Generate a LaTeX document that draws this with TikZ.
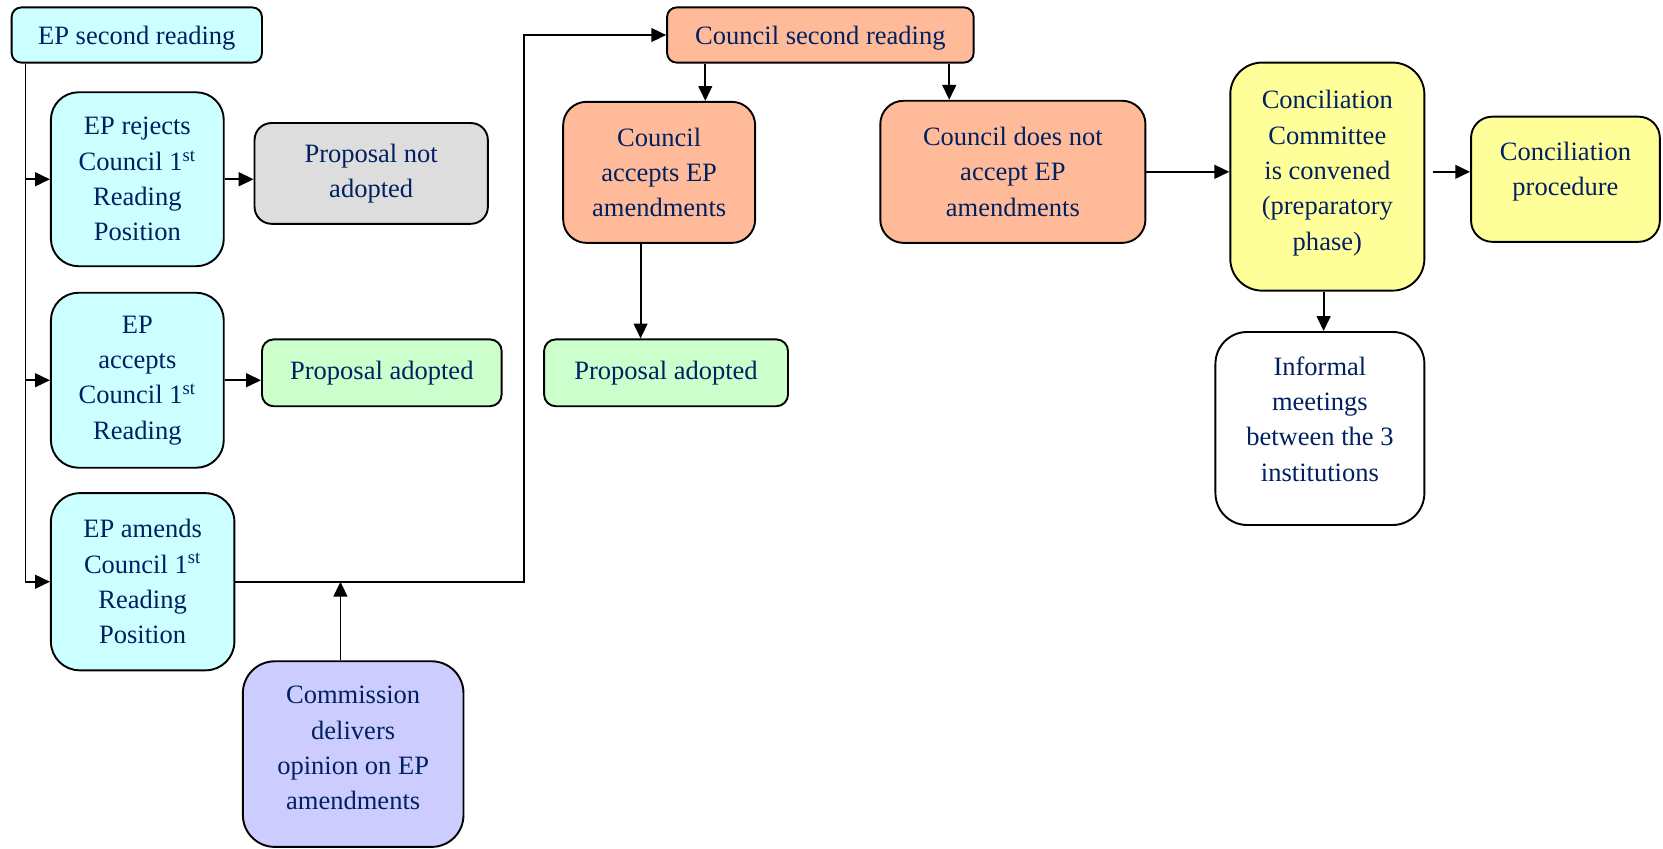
\documentclass[tikz,border=0pt]{standalone}
\usepackage{fontspec}
\setmainfont{Liberation Serif}
\usetikzlibrary{arrows.meta}
\definecolor{navy}{RGB}{0,32,96}
\definecolor{cyanL}{RGB}{204,255,255}
\definecolor{grayL}{RGB}{221,221,221}
\definecolor{greenL}{RGB}{204,255,204}
\definecolor{lavL}{RGB}{204,204,255}
\definecolor{salL}{RGB}{255,187,153}
\definecolor{yelL}{RGB}{255,255,153}
\newcommand{\mylines}[2]{\raisebox{#1}[\height][\depth]{\begin{tabular}{@{}c@{}}#2\end{tabular}}}
\newcommand{\myone}[2]{\raisebox{#1}[\height][\depth]{#2}}
\begin{document}
\begin{tikzpicture}[x=0.5pt,y=-0.5pt,
  box/.style={draw=black, line width=0.9pt, align=center, inner sep=0pt, text=navy,
    font=\fontsize{12.5}{16.65}\selectfont},
  conn/.style={line width=0.85pt, draw=black},
  arr/.style={conn, -{Triangle[length=7pt,width=6.5pt]}}]
\useasboundingbox (0,0) rectangle (1568,800);

% left column
\node[box, fill=cyanL, minimum width=118pt, minimum height=26pt, rounded corners=4.5pt] (epsr) at (129,33) {\myone{-1.5pt}{EP second reading}};
\node[box, fill=cyanL, minimum width=81.5pt, minimum height=82pt, rounded corners=13pt] (rej) at (129.5,169) {EP rejects\\Council 1\textsuperscript{st}\\Reading\\Position};
\node[box, fill=grayL, minimum width=110pt, minimum height=47.5pt, rounded corners=8pt] (pna) at (350,163.5) {Proposal not\\adopted};
\node[box, fill=cyanL, minimum width=81.5pt, minimum height=82.5pt, rounded corners=13pt] (acc) at (129.5,358.5) {EP\\accepts\\Council 1\textsuperscript{st}\\Reading};
\node[box, fill=greenL, minimum width=113pt, minimum height=31.5pt, rounded corners=5.5pt] (pa1) at (360,351.5) {Proposal adopted};
\node[box, fill=cyanL, minimum width=86.5pt, minimum height=83.5pt, rounded corners=13.5pt] (amd) at (134.5,548.5) {EP amends\\Council 1\textsuperscript{st}\\Reading\\Position};
\node[box, fill=lavL, minimum width=104pt, minimum height=87.5pt, rounded corners=15pt] (com) at (333,711) {\mylines{2pt}{Commission\\delivers\\opinion on EP\\amendments}};

% council
\node[box, fill=salL, minimum width=144.5pt, minimum height=26pt, rounded corners=4.5pt] (csr) at (773.5,33) {\myone{-1.5pt}{Council second reading}};
\node[box, fill=salL, minimum width=90.5pt, minimum height=66.5pt, rounded corners=11pt] (cacc) at (621.5,162.5) {Council\\accepts EP\\amendments};
\node[box, fill=greenL, minimum width=115pt, minimum height=31.5pt, rounded corners=5.5pt] (pa2) at (628,351.5) {Proposal adopted};
\node[box, fill=salL, minimum width=125pt, minimum height=67pt, rounded corners=11pt] (cdna) at (955,162) {Council does not\\accept EP\\amendments};

% conciliation
\node[box, fill=yelL, minimum width=91.5pt, minimum height=107.5pt, rounded corners=15pt] (ccc) at (1251.5,166.5) {\mylines{2pt}{Conciliation\\Committee\\is convened\\(preparatory\\phase)}};
\node[box, fill=yelL, minimum width=89pt, minimum height=59pt, rounded corners=10pt] (ccp) at (1476,169) {\mylines{4pt}{Conciliation\\procedure}};
\node[box, fill=white, minimum width=98.5pt, minimum height=91pt, rounded corners=15pt] (inf) at (1244.5,404) {\mylines{3.5pt}{Informal\\meetings\\between the 3\\institutions}};

% helper coordinates
\coordinate (trunk) at (24,0);
\coordinate (turn) at (494,300);
\coordinate (join) at (321,0);
\coordinate (a1) at (665,0);
\coordinate (a2) at (895,0);
\coordinate (a3) at (604,0);
\coordinate (a4) at (1248,0);

% connectors
\draw[arr] (epsr.south -| trunk) |- (rej.west);
\draw[arr] (epsr.south -| trunk) |- (acc.west);
\draw[arr] (epsr.south -| trunk) |- (amd.west);
\draw[arr] (rej.east) -- (rej.east -| pna.west);
\draw[arr] (acc.east) -- (acc.east -| pa1.west);
\draw[arr] (amd.east) -| (turn) |- (csr.west);
\draw[arr] (com.north -| join) -- (amd.east -| join);
\draw[arr] (csr.south -| a1) -- (cacc.north -| a1);
\draw[arr] (csr.south -| a2) -- (cdna.north -| a2);
\draw[arr] (cacc.south -| a3) -- (pa2.north -| a3);
\draw[arr] (cdna.east) -- (cdna.east -| ccc.west);
\draw[arr] ([xshift=3.5pt]cdna.east -| ccc.east) -- (cdna.east -| ccp.west);
\draw[arr] (ccc.south -| a4) -- (inf.north -| a4);
\end{tikzpicture}
\end{document}
